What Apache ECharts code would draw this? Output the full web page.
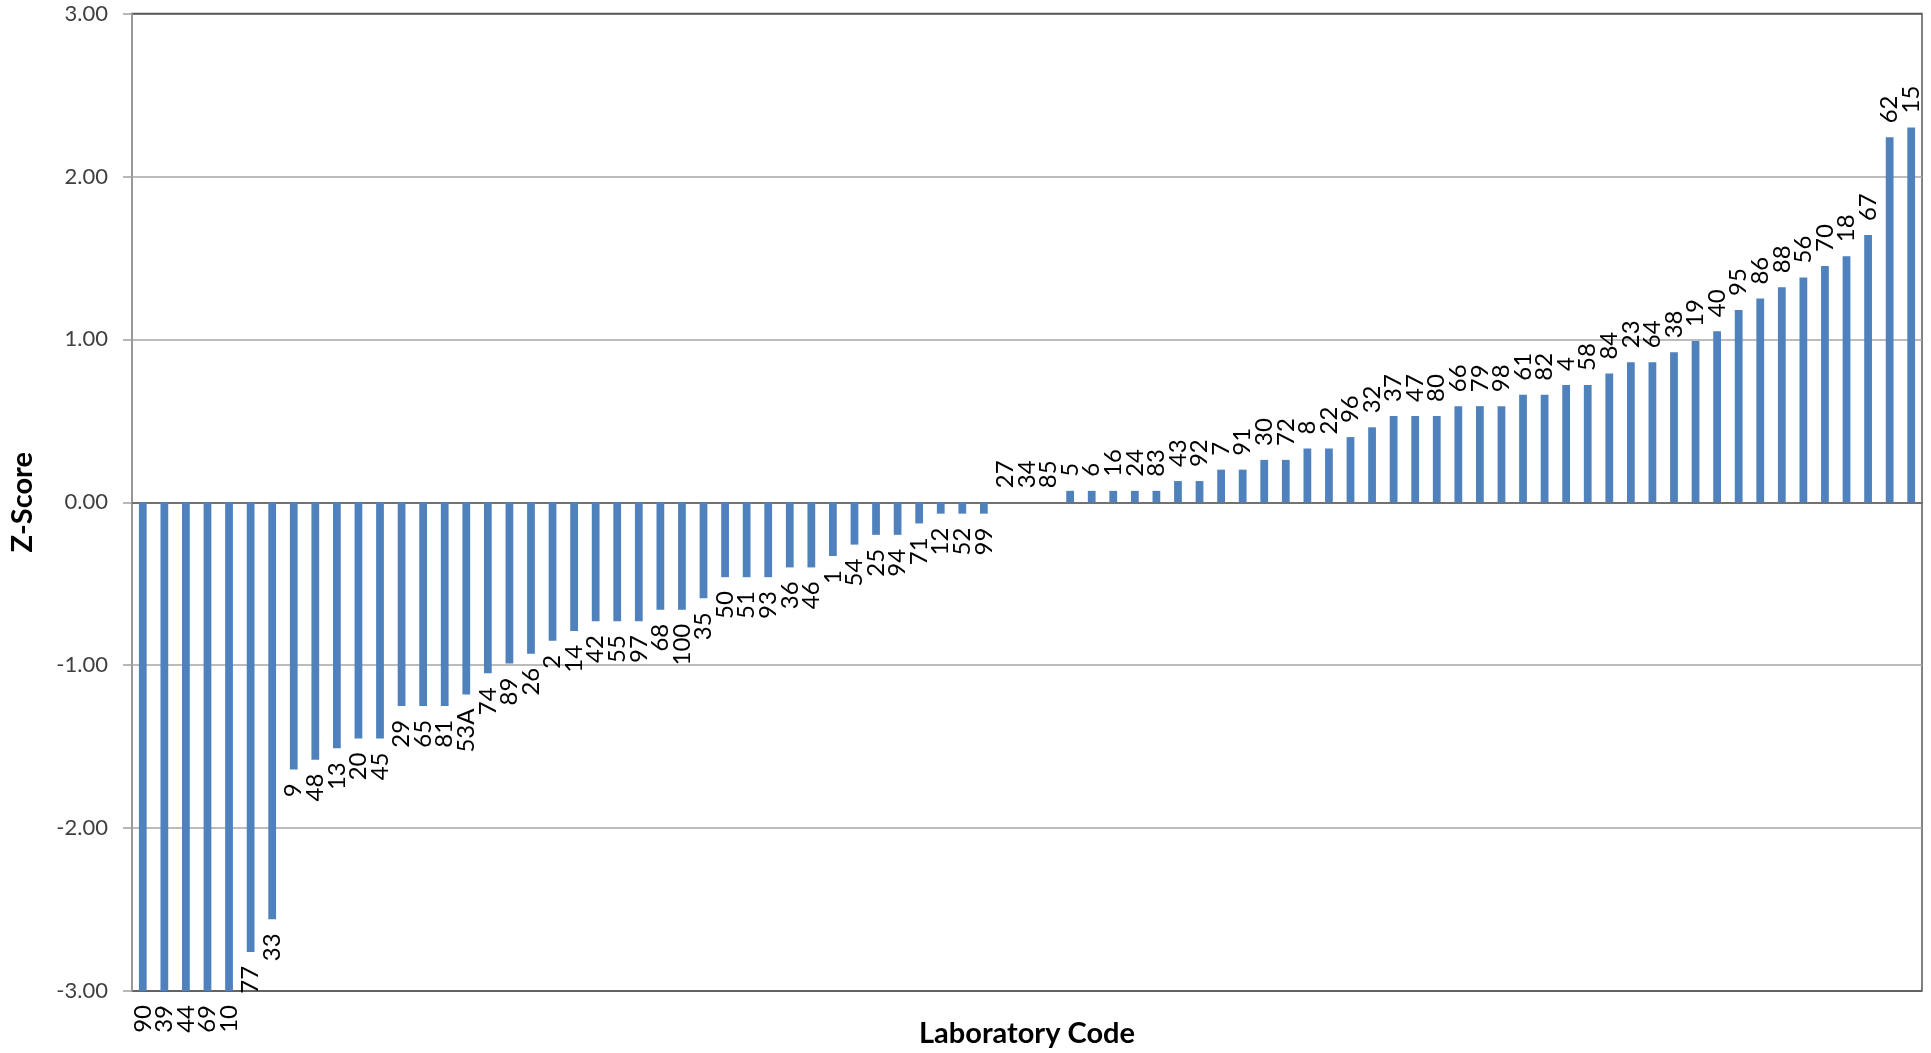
<!DOCTYPE html>
<html>
<head>
<meta charset="utf-8">
<script src="https://cdn.jsdelivr.net/npm/echarts@6/dist/echarts.min.js"></script>
<style>
html,body{margin:0;padding:0;background:#fff;}
#chart{width:1931px;height:1053px;}
</style>
</head>
<body>
<div id="chart"></div>
<script>
const labCodes = ['90','39','44','69','10','77','33','9','48','13','20','45','29','65','81','53A','74','89','26','2','14','42','55','97','68','100','35','50','51','93','36','46','1','54','25','94','71','12','52','99','27','34','85','5','6','16','24','83','43','92','7','91','30','72','8','22','96','32','37','47','80','66','79','98','61','82','4','58','84','23','64','38','19','40','95','86','88','56','70','18','67','62','15'];
const zScores = [-3.00,-3.00,-3.00,-3.00,-3.00,-2.76,-2.56,-1.64,-1.58,-1.51,-1.45,-1.45,-1.25,-1.25,-1.25,-1.18,-1.05,-0.99,-0.93,-0.85,-0.79,-0.73,-0.73,-0.73,-0.66,-0.66,-0.59,-0.46,-0.46,-0.46,-0.40,-0.40,-0.33,-0.26,-0.20,-0.20,-0.13,-0.07,-0.07,-0.07,0.00,0.00,0.00,0.07,0.07,0.07,0.07,0.07,0.13,0.13,0.20,0.20,0.26,0.26,0.33,0.33,0.40,0.46,0.53,0.53,0.53,0.59,0.59,0.59,0.66,0.66,0.72,0.72,0.79,0.86,0.86,0.92,0.99,1.05,1.18,1.25,1.32,1.38,1.45,1.51,1.64,2.24,2.30];
const yTicks = {min: -3, max: 3, interval: 1};

const font = 'Lato, "Open Sans", sans-serif';
const chart = echarts.init(document.getElementById('chart'));
const data = zScores.map((v, i) => ({
  value: v,
  label: {
    position: v < 0 ? 'bottom' : 'top',
    align: v < 0 ? 'right' : 'left'
  }
}));
chart.setOption({
  animation: false,
  grid: {left: 132, right: 9, top: 13.5, bottom: 62, show: true, borderColor: '#595959', borderWidth: 1.5},
  xAxis: {
    type: 'category',
    data: labCodes,
    name: 'Laboratory Code',
    nameLocation: 'middle',
    nameGap: 28,
    nameTextStyle: {fontFamily: font, fontWeight: 'bold', fontSize: 29, color: '#000'},
    axisLine: {show: true, lineStyle: {color: '#595959', width: 1.5}},
    axisTick: {show: false},
    axisLabel: {show: false},
    splitLine: {show: false}
  },
  yAxis: {
    type: 'value',
    min: yTicks.min, max: yTicks.max, interval: yTicks.interval,
    name: 'Z-Score',
    nameLocation: 'middle',
    nameGap: 95,
    nameTextStyle: {fontFamily: font, fontWeight: 'bold', fontSize: 29, color: '#000'},
    axisLine: {show: true, lineStyle: {color: '#a0a0a0', width: 1.5}},
    axisTick: {show: true, length: 9, lineStyle: {color: '#a0a0a0', width: 1.5}},
    axisLabel: {fontFamily: font, fontSize: 22, color: '#404040', margin: 24, formatter: v => v.toFixed(2)},
    splitLine: {show: true, lineStyle: {color: ['#595959','#a6a6a6','#a6a6a6','#a6a6a6','#a6a6a6','#a6a6a6','#595959'], width: 1.5}}
  },
  series: [{
    type: 'bar',
    data: data,
    barWidth: '36%',
    itemStyle: {color: '#4f81bd'},
    label: {
      show: true,
      rotate: 90,
      distance: 14,
      verticalAlign: 'middle',
      fontFamily: font,
      fontSize: 24,
      color: '#000',
      formatter: p => labCodes[p.dataIndex]
    }
  }]
});
</script>
</body>
</html>
